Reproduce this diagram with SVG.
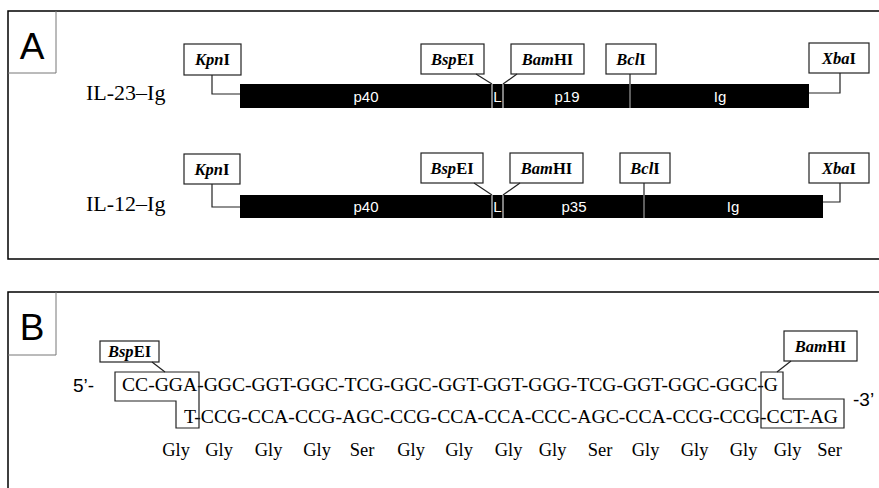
<svg xmlns="http://www.w3.org/2000/svg" width="879" height="488" viewBox="0 0 879 488">
<style>
.frame{fill:none;stroke:#000;stroke-width:1.5}
.lbox{fill:none;stroke:#777;stroke-width:1}
.panel{font-family:"Liberation Sans",Arial,sans-serif;font-size:37px;fill:#000;text-anchor:middle}
.name{font-family:"Liberation Serif","Times New Roman",serif;font-size:22px;fill:#000}
.bar{fill:#000}
.seg{font-family:"Liberation Sans",Arial,sans-serif;font-size:15px;fill:#fff;text-anchor:middle}
.box{fill:#fff;stroke:#222;stroke-width:1.2}
.enz{font-family:"Liberation Serif","Times New Roman",serif;font-size:16.5px;font-weight:bold;fill:#000;text-anchor:middle}
.it{font-style:italic}
.conn{fill:none;stroke:#222;stroke-width:1.2}
.wl{stroke:#fff;stroke-width:1}
.gl{stroke:#bbb;stroke-width:1}
.dna{font-family:"Liberation Serif","Times New Roman",serif;font-size:19px;fill:#000}
.end{font-family:"Liberation Sans",Arial,sans-serif;font-size:19px;fill:#000}
.aa{font-family:"Liberation Serif","Times New Roman",serif;font-size:18.5px;fill:#000;text-anchor:middle}
</style>

<g id="panel-a">
  <rect class="frame" x="8" y="11" width="890" height="248"/>
  <path class="lbox" d="M56,11 V73 H8"/>
  <text class="panel" x="32" y="59">A</text>
</g>

<g id="il23-ig">
  <text class="name" x="86" y="100">IL-23–Ig</text>
  <rect class="bar" x="240" y="84" width="569" height="24"/>
  <line class="wl" x1="492" y1="84" x2="492" y2="108"/>
  <line class="wl" x1="503" y1="84" x2="503" y2="108"/>
  <line class="gl" x1="630" y1="84" x2="630" y2="108"/>
  <text class="seg" x="366" y="101.5">p40</text>
  <text class="seg" x="497.5" y="101.5">L</text>
  <text class="seg" x="567" y="101.5">p19</text>
  <text class="seg" x="720" y="101.5">Ig</text>
</g>
<g id="il23-kpni"><rect class="box" x="184" y="44" width="57" height="31"/><text class="enz" x="212.5" y="65"><tspan class="it">Kpn</tspan>I</text></g>
<g id="il23-bspei"><rect class="box" x="421" y="44" width="63" height="30"/><text class="enz" x="452.5" y="65"><tspan class="it">Bsp</tspan>EI</text></g>
<g id="il23-bamhi"><rect class="box" x="511" y="44" width="73" height="30"/><text class="enz" x="547.5" y="65"><tspan class="it">Bam</tspan>HI</text></g>
<g id="il23-bcli"><rect class="box" x="606" y="44" width="50" height="30"/><text class="enz" x="631" y="65"><tspan class="it">Bcl</tspan>I</text></g>
<g id="il23-xbai"><rect class="box" x="809" y="43" width="60" height="30"/><text class="enz" x="839" y="64"><tspan class="it">Xba</tspan>I</text></g>

<g id="il12-ig">
  <text class="name" x="86" y="211">IL-12–Ig</text>
  <rect class="bar" x="240" y="195" width="583" height="23"/>
  <line class="wl" x1="492" y1="195" x2="492" y2="218"/>
  <line class="wl" x1="503" y1="195" x2="503" y2="218"/>
  <line class="gl" x1="644" y1="195" x2="644" y2="218"/>
  <text class="seg" x="366" y="212">p40</text>
  <text class="seg" x="497.5" y="212">L</text>
  <text class="seg" x="574" y="212">p35</text>
  <text class="seg" x="733" y="212">Ig</text>
</g>
<g id="il12-kpni"><rect class="box" x="184" y="154" width="56" height="30"/><text class="enz" x="212" y="175"><tspan class="it">Kpn</tspan>I</text></g>
<g id="il12-bspei"><rect class="box" x="421" y="153" width="62" height="30"/><text class="enz" x="452" y="174"><tspan class="it">Bsp</tspan>EI</text></g>
<g id="il12-bamhi"><rect class="box" x="510" y="153" width="73" height="30"/><text class="enz" x="546.5" y="174"><tspan class="it">Bam</tspan>HI</text></g>
<g id="il12-bcli"><rect class="box" x="620" y="153" width="50" height="30"/><text class="enz" x="645" y="174"><tspan class="it">Bcl</tspan>I</text></g>
<g id="il12-xbai"><rect class="box" x="809" y="153" width="60" height="30"/><text class="enz" x="839" y="174"><tspan class="it">Xba</tspan>I</text></g>

<g id="panel-b">
  <rect class="frame" x="8" y="292" width="890" height="220"/>
  <path class="lbox" d="M56,292 V355 H8"/>
  <text class="panel" x="32" y="340">B</text>
  <text class="end" x="73" y="392">5’-</text>
  <text class="end" x="853" y="406">-3’</text>
  <text class="dna" x="122" y="391" textLength="656" lengthAdjust="spacingAndGlyphs">CC-GGA-GGC-GGT-GGC-TCG-GGC-GGT-GGT-GGG-TCG-GGT-GGC-GGC-G</text>
  <text class="dna" x="184" y="423" textLength="654" lengthAdjust="spacingAndGlyphs">T-CCG-CCA-CCG-AGC-CCG-CCA-CCA-CCC-AGC-CCA-CCG-CCG-CCT-AG</text>
  <polygon class="conn" points="115,372 199,372 199,428 176,428 176,401 115,401"/>
  <polygon class="conn" points="761,372 783,372 783,399 844,399 844,428 761,428"/>
  <text class="aa" x="176" y="456">Gly</text>
  <text class="aa" x="219" y="456">Gly</text>
  <text class="aa" x="268.5" y="456">Gly</text>
  <text class="aa" x="317" y="456">Gly</text>
  <text class="aa" x="362" y="456">Ser</text>
  <text class="aa" x="411" y="456">Gly</text>
  <text class="aa" x="459" y="456">Gly</text>
  <text class="aa" x="508.5" y="456">Gly</text>
  <text class="aa" x="552.5" y="456">Gly</text>
  <text class="aa" x="600" y="456">Ser</text>
  <text class="aa" x="645.5" y="456">Gly</text>
  <text class="aa" x="694.5" y="456">Gly</text>
  <text class="aa" x="743.5" y="456">Gly</text>
  <text class="aa" x="787.5" y="456">Gly</text>
  <text class="aa" x="829.5" y="456">Ser</text>
</g>
<g id="b-bspei"><rect class="box" x="100" y="341" width="59" height="21"/><text class="enz" x="129.5" y="357"><tspan class="it">Bsp</tspan>EI</text></g>
<g id="b-bamhi"><rect class="box" x="784" y="331" width="73" height="30"/><text class="enz" x="820.5" y="352"><tspan class="it">Bam</tspan>HI</text></g>

<g id="connectors">
  <polyline class="conn" points="212,75 212,94 240,94"/>
  <line class="conn" x1="476" y1="74" x2="492" y2="84"/>
  <line class="conn" x1="517" y1="74" x2="503" y2="84"/>
  <line class="conn" x1="630" y1="74" x2="630" y2="84"/>
  <polyline class="conn" points="840,73 840,93 809,93"/>
  <polyline class="conn" points="212,184 212,207 240,207"/>
  <line class="conn" x1="474" y1="183" x2="492" y2="195"/>
  <line class="conn" x1="520" y1="183" x2="503" y2="195"/>
  <line class="conn" x1="644" y1="183" x2="644" y2="195"/>
  <polyline class="conn" points="840,183 840,202 823,202"/>
  <line class="conn" x1="152" y1="362" x2="165" y2="372"/>
  <line class="conn" x1="791" y1="361" x2="777" y2="372"/>
</g>
</svg>
